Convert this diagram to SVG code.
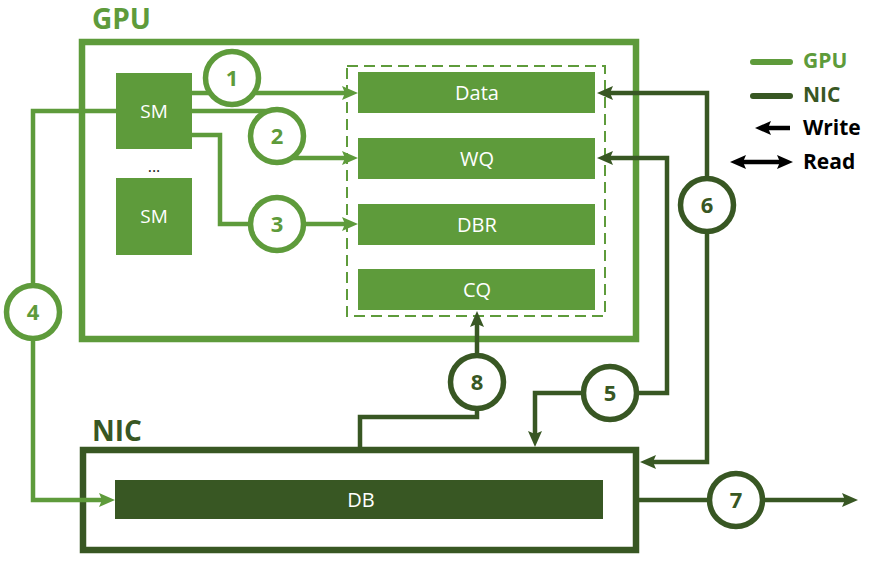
<svg xmlns="http://www.w3.org/2000/svg" width="880" height="566" viewBox="0 0 880 566">
<defs>
<style>
.lt{fill:#5e9b3b}
.dk{fill:#385723}
.box-g{fill:none;stroke:#5e9b3b;stroke-width:6.5}
.box-d{fill:none;stroke:#385723;stroke-width:6.5}
.cg{fill:none;stroke:#5e9b3b;stroke-width:4.5;stroke-linejoin:miter}
.cd{fill:none;stroke:#385723;stroke-width:4.5;stroke-linejoin:miter}
.ring-g{fill:#fff;stroke:#5e9b3b;stroke-width:5.5}
.ring-d{fill:#fff;stroke:#385723;stroke-width:5.5}
.num{font-family:"Open Sans","DejaVu Sans",sans-serif;font-weight:bold;font-size:22px;text-anchor:middle}
.lbl{font-family:"Open Sans","DejaVu Sans",sans-serif;font-size:20px;fill:#fff;text-anchor:middle}
.title{font-family:"Open Sans","DejaVu Sans",sans-serif;font-weight:bold;font-size:28px}
.leg{font-family:"Open Sans","DejaVu Sans",sans-serif;font-weight:bold;font-size:21px}
</style>
<marker id="ag" viewBox="0 0 16 14" refX="8" refY="7" markerWidth="16" markerHeight="14" markerUnits="userSpaceOnUse" orient="auto-start-reverse"><path d="M0,0 L16,7 L0,14 L3,7 z" fill="#5e9b3b"/></marker>
<marker id="ad" viewBox="0 0 16 14" refX="8" refY="7" markerWidth="16" markerHeight="14" markerUnits="userSpaceOnUse" orient="auto-start-reverse"><path d="M0,0 L16,7 L0,14 L3,7 z" fill="#385723"/></marker>
<marker id="ab" viewBox="0 0 16 14" refX="8" refY="7" markerWidth="16" markerHeight="14" markerUnits="userSpaceOnUse" orient="auto-start-reverse"><path d="M0,0 L16,7 L0,14 L3,7 z" fill="#000"/></marker>
</defs>
<rect width="880" height="566" fill="#fff"/>

<g id="gpu">
<rect class="box-g" x="82" y="42" width="554" height="297"/>
<text class="title" x="92" y="29" fill="#5e9b3b">GPU</text>
</g>
<g id="memory">
<rect x="347" y="66" width="258" height="250" fill="none" stroke="#5e9b3b" stroke-width="2" stroke-dasharray="11 6"/>
</g>
<g id="data"><rect class="lt" x="358" y="72" width="237" height="41"/><text class="lbl" x="477" y="100">Data</text></g>
<g id="wq"><rect class="lt" x="358" y="138" width="237" height="41"/><text class="lbl" x="477" y="166">WQ</text></g>
<g id="dbr"><rect class="lt" x="358" y="204" width="237" height="41"/><text class="lbl" x="477" y="232">DBR</text></g>
<g id="cq"><rect class="lt" x="358" y="269" width="237" height="41"/><text class="lbl" x="477" y="297">CQ</text></g>
<g id="sm1"><rect class="lt" x="116" y="73" width="76" height="76"/><text class="lbl" x="154" y="118" style="font-size:19px">SM</text></g>
<g id="dots"><text x="154" y="172" style="font-family:'Open Sans',sans-serif;font-size:16px;text-anchor:middle" fill="#222">...</text></g>
<g id="sm2"><rect class="lt" x="116" y="178" width="76" height="77"/><text class="lbl" x="154" y="223" style="font-size:19px">SM</text></g>

<g id="nic">
<rect class="box-d" x="83" y="450" width="553" height="100"/>
<text class="title" x="92" y="441" fill="#385723">NIC</text>
</g>
<g id="db"><rect class="dk" x="115" y="480" width="488" height="39"/><text class="lbl" x="361" y="507">DB</text></g>

<g id="connectors">
<path class="cg" d="M192,93 H350" marker-end="url(#ag)"/>
<path class="cg" d="M192,111 H277 V158 H350" marker-end="url(#ag)"/>
<path class="cg" d="M192,135 H220 V224 H350" marker-end="url(#ag)"/>
<path class="cg" d="M116,111 H33 V500 H107" marker-end="url(#ag)"/>
<path class="cd" d="M605,158 H667 V393 H535 V439" marker-start="url(#ad)" marker-end="url(#ad)"/>
<path class="cd" d="M605,93 H707 V462 H648" marker-start="url(#ad)" marker-end="url(#ad)"/>
<path class="cd" d="M639,500 H850" marker-end="url(#ad)"/>
<path class="cd" d="M360,447 V417 H477 V319" marker-end="url(#ad)"/>
</g>

<g id="c1"><circle class="ring-g" cx="232" cy="78" r="26.5"/><text class="num" x="232" y="86" fill="#5e9b3b">1</text></g>
<g id="c2"><circle class="ring-g" cx="277" cy="136" r="26.5"/><text class="num" x="277" y="144" fill="#5e9b3b">2</text></g>
<g id="c3"><circle class="ring-g" cx="277" cy="224" r="26.5"/><text class="num" x="277" y="232" fill="#5e9b3b">3</text></g>
<g id="c4"><circle class="ring-g" cx="33" cy="312" r="26.5"/><text class="num" x="33" y="320" fill="#5e9b3b">4</text></g>
<g id="c5"><circle class="ring-d" cx="610" cy="393" r="26.5"/><text class="num" x="610" y="401" fill="#385723">5</text></g>
<g id="c6"><circle class="ring-d" cx="707" cy="205" r="26.5"/><text class="num" x="707" y="213" fill="#385723">6</text></g>
<g id="c7"><circle class="ring-d" cx="736" cy="500" r="26.5"/><text class="num" x="736" y="508" fill="#385723">7</text></g>
<g id="c8"><circle class="ring-d" cx="477" cy="382" r="26.5"/><text class="num" x="477" y="390" fill="#385723">8</text></g>

<g id="legend">
<line x1="753" y1="62" x2="790" y2="62" stroke="#5e9b3b" stroke-width="6" stroke-linecap="round"/>
<text class="leg" x="803" y="68" fill="#5e9b3b">GPU</text>
<line x1="753" y1="96" x2="790" y2="96" stroke="#385723" stroke-width="6" stroke-linecap="round"/>
<text class="leg" x="803" y="102" fill="#385723">NIC</text>
<line x1="763" y1="128" x2="790" y2="128" stroke="#000" stroke-width="4.5" marker-start="url(#ab)"/>
<text class="leg" x="803" y="135" fill="#000">Write</text>
<line x1="738" y1="162" x2="785" y2="162" stroke="#000" stroke-width="4.5" marker-start="url(#ab)" marker-end="url(#ab)"/>
<text class="leg" x="803" y="169" fill="#000">Read</text>
</g>
</svg>
